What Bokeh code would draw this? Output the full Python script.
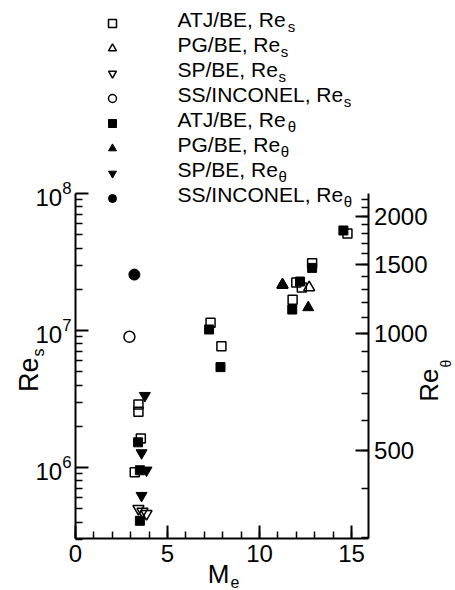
import math
from bokeh.plotting import figure
from bokeh.models import (Range1d, LogScale, LogAxis, FixedTicker, PrintfTickFormatter,
                          Label, Legend, LegendItem)
from bokeh.embed import file_html
from bokeh.resources import INLINE

# ---------------- data ----------------
atj_res_M = [3.42, 3.42, 3.55, 3.22, 7.34, 7.93, 11.8, 12.0, 12.3, 12.86, 14.78]
atj_res = [2.88e6, 2.55e6, 1.63e6, 9.25e5, 1.14e7, 7.67e6, 1.68e7, 2.24e7, 2.06e7, 3.1e7, 5.1e7]
pg_res_M = [11.25, 12.7]
pg_res = [2.15e7, 2.06e7]
sp_res_M = [3.42, 3.64, 3.86]
sp_res = [5.0e5, 4.77e5, 4.6e5]
ss_res_M = [2.93]
ss_res = [9.0e6]

atj_ret_M = [3.4, 3.5, 3.5, 7.26, 7.88, 11.78, 12.2, 12.86, 14.56]
atj_ret = [526, 446, 331, 1024, 820, 1152, 1359, 1473, 1837]
pg_ret_M = [11.25, 12.65]
pg_ret = [1336, 1166]
sp_ret_M = [3.77, 3.59, 3.86, 3.59]
sp_ret = [693, 494, 446, 384]
ss_ret_M = [3.2]
ss_ret = [1416]

legend_main = ["ATJ/BE, Re", "PG/BE, Re", "SP/BE, Re", "SS/INCONEL, Re",
               "ATJ/BE, Re", "PG/BE, Re", "SP/BE, Re", "SS/INCONEL, Re"]
legend_sub = ["s", "s", "s", "s", "\u03b8", "\u03b8", "\u03b8", "\u03b8"]
legend_em = [5.224, 4.891, 4.78, 7.891, 5.224, 4.891, 4.78, 7.891]  # text widths in em

x_major = [0, 5, 10, 15]
x_minor = list(range(0, 16))
y_major = [1e6, 1e7, 1e8]
y_minor = [k * 10 ** e for e in (5, 6, 7) for k in range(2, 10) if k * 10 ** e >= 3e5]
t_major = [500, 1000, 1500, 2000]
t_minor = list(range(300, 2300, 100))

FONT = "Liberation Sans"
W, H = 455, 590

# pixel geometry of the plotting box (page pixels)
X0, PX_PER_M = 75.0, 18.4            # M = 0 at x=75
Y_E6, PX_PER_DEC = 467.0, 137.0      # Re_s = 1e6 at y=467
Y_T3, PX_PER_DEC_T = 333.0, 390.0    # Re_theta = 1000 at y=333
BOX_TOP, BOX_BOTTOM, BOX_RIGHT = 193.0, 538.0, 367.6

x_lo = (0 - X0) / PX_PER_M
x_hi = (W - X0) / PX_PER_M
y_lo = 10 ** (6 - (H - Y_E6) / PX_PER_DEC)
y_hi = 10 ** (6 + Y_E6 / PX_PER_DEC)
t_lo = 10 ** (3 - (H - Y_T3) / PX_PER_DEC_T)
t_hi = 10 ** (3 + Y_T3 / PX_PER_DEC_T)

x_right = (BOX_RIGHT - X0) / PX_PER_M
y_bottom = 10 ** (6 - (BOX_BOTTOM - Y_E6) / PX_PER_DEC)
y_top = 10 ** (6 + (Y_E6 - BOX_TOP) / PX_PER_DEC)
t_bottom = 10 ** (3 - (BOX_BOTTOM - Y_T3) / PX_PER_DEC_T)
t_top = 10 ** (3 + (Y_T3 - BOX_TOP) / PX_PER_DEC_T)

p = figure(width=W, height=H, title=None,
           x_range=Range1d(x_lo, x_hi), y_range=Range1d(y_lo, y_hi), y_axis_type="log",
           output_backend="svg", toolbar_location=None)
p.min_border = 0
p.min_border_left = 0
p.min_border_right = 0
p.min_border_top = 0
p.min_border_bottom = 0
p.extra_y_ranges = {"theta": Range1d(t_lo, t_hi)}
p.extra_y_scales = {"theta": LogScale()}
p.outline_line_color = None
p.xgrid.visible = False
p.ygrid.visible = False
p.background_fill_color = "white"
p.border_fill_color = "white"

ra = LogAxis(y_range_name="theta")
p.add_layout(ra, "right")

xa = p.xaxis[0]
ya = p.yaxis[0]
xa.ticker = FixedTicker(ticks=x_major, minor_ticks=x_minor)
ya.ticker = FixedTicker(ticks=y_major, minor_ticks=y_minor)
ra.ticker = FixedTicker(ticks=t_major, minor_ticks=t_minor)
ra.formatter = PrintfTickFormatter(format="%d")

xa.fixed_location = y_bottom
xa.bounds = (0, x_right)
ya.fixed_location = 0
ya.bounds = (y_bottom, y_top)
ra.fixed_location = x_right
ra.bounds = (t_bottom, t_top)

for ax in (xa, ya, ra):
    ax.axis_label = None
    ax.axis_line_width = 2
    ax.axis_line_color = "black"
    ax.major_tick_in = 13
    ax.major_tick_out = 0
    ax.major_tick_line_width = 2
    ax.major_tick_line_color = "black"
    ax.minor_tick_in = 7
    ax.minor_tick_out = 0
    ax.minor_tick_line_width = 1.5
    ax.minor_tick_line_color = "black"
    ax.major_label_text_font = FONT
    ax.major_label_text_font_size = "24px"
    ax.major_label_text_color = "black"
    ax.major_label_standoff = 6
ya.major_label_standoff = 4

# ---------------- markers ----------------
common_open = dict(fill_alpha=0, line_color="black", line_width=1.5)
common_fill = dict(fill_color="black", line_color="black", line_width=1)

r1 = p.scatter(atj_res_M, atj_res, marker="square", size=9, **common_open)
r2 = p.scatter(pg_res_M, pg_res, marker="triangle", size=11, **common_open)
r3 = p.scatter(sp_res_M, sp_res, marker="inverted_triangle", size=11, **common_open)
r4 = p.scatter(ss_res_M, ss_res, marker="circle", size=11, **common_open)
r5 = p.scatter(atj_ret_M, atj_ret, marker="square", size=9, y_range_name="theta", **common_fill)
r6 = p.scatter(pg_ret_M, pg_ret, marker="triangle", size=11, y_range_name="theta", **common_fill)
r7 = p.scatter(sp_ret_M, sp_ret, marker="inverted_triangle", size=11, y_range_name="theta", **common_fill)
r8 = p.scatter(ss_ret_M, ss_ret, marker="circle", size=11, y_range_name="theta", **common_fill)

renderers = [r1, r2, r3, r4, r5, r6, r7, r8]

# ---------------- legend (symbols) ----------------
ROW0, PITCH = 23, 25            # page y of first symbol, row pitch
legend = Legend(items=[LegendItem(label=" ", renderers=[r]) for r in renderers],
                location=(102, H - (ROW0 - 10 + 8 * 20 + 7 * 5)), orientation="vertical",
                glyph_width=20, glyph_height=20, spacing=5,
                label_standoff=0, label_width=0, label_height=0,
                label_text_font_size="1px", padding=0, margin=0,
                border_line_alpha=0, background_fill_alpha=0)
p.add_layout(legend, "center")

# legend texts
LFS = 21
for i in range(8):
    yt = ROW0 - 4 + PITCH * i
    x_end = 177 + legend_em[i] * LFS
    p.add_layout(Label(x=177, y=H - yt, x_units="screen", y_units="screen",
                       text=legend_main[i], text_font=FONT, text_font_size=f"{LFS}px",
                       text_align="left", text_baseline="middle", text_color="black"))
    p.add_layout(Label(x=x_end + 0.5, y=H - (yt + 7), x_units="screen", y_units="screen",
                       text=legend_sub[i], text_font=FONT, text_font_size="15px",
                       text_align="left", text_baseline="middle", text_color="black"))

# ---------------- axis titles ----------------
# left: Re_s (rotated, reads bottom to top)
p.add_layout(Label(x=28, y=H - 357, x_units="screen", y_units="screen", angle=math.pi / 2,
                   text="Re", text_font=FONT, text_font_size="27px",
                   text_align="right", text_baseline="middle", text_color="black"))
p.add_layout(Label(x=38, y=H - 356, x_units="screen", y_units="screen", angle=math.pi / 2,
                   text="s", text_font=FONT, text_font_size="16px",
                   text_align="left", text_baseline="middle", text_color="black"))
# right: Re_theta
p.add_layout(Label(x=428, y=H - 368, x_units="screen", y_units="screen", angle=math.pi / 2,
                   text="Re", text_font=FONT, text_font_size="26px",
                   text_align="right", text_baseline="middle", text_color="black"))
p.add_layout(Label(x=445, y=H - 367, x_units="screen", y_units="screen", angle=math.pi / 2,
                   text="\u03b8", text_font=FONT, text_font_size="14px",
                   text_align="left", text_baseline="middle", text_color="black"))
# bottom: M_e
p.add_layout(Label(x=229, y=H - 573, x_units="screen", y_units="screen",
                   text="M", text_font=FONT, text_font_size="26px",
                   text_align="right", text_baseline="middle", text_color="black"))
p.add_layout(Label(x=230, y=H - 581, x_units="screen", y_units="screen",
                   text="e", text_font=FONT, text_font_size="16px",
                   text_align="left", text_baseline="middle", text_color="black"))

open("out.html", "w").write(file_html(p, INLINE))
